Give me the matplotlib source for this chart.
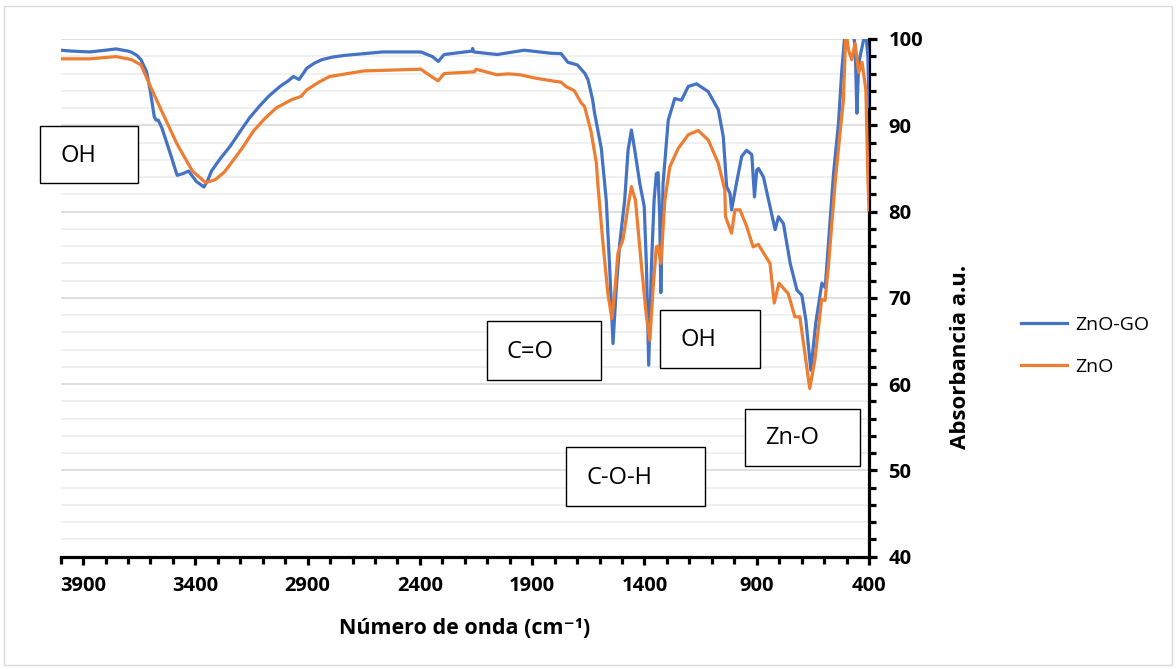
import matplotlib
matplotlib.use("Agg")
import matplotlib.pyplot as plt
from matplotlib.patches import Rectangle
from matplotlib.ticker import MultipleLocator, FixedLocator
import numpy as np

plt.rcParams['font.family'] = ['Open Sans', 'DejaVu Sans']

# ZnO-GO spectrum (wavenumber, absorbance a.u.)
wn_zngo = [4000, 3950, 3871, 3800, 3753, 3700, 3684, 3660, 3642, 3617, 3600, 3583, 3575, 3565,
           3549, 3515, 3481, 3455, 3430, 3396, 3362, 3345, 3328, 3290, 3244, 3200, 3159, 3115,
           3074, 3023, 2989, 2963, 2938, 2904, 2870, 2837, 2790, 2735, 2650, 2565, 2396, 2344,
           2318, 2292, 2200, 2168, 2165, 2160, 2056, 1936, 1817, 1771, 1741, 1727, 1699, 1665,
           1651, 1631, 1622, 1592, 1570, 1555, 1540, 1525, 1510, 1488, 1473, 1458, 1443, 1421,
           1401, 1391, 1381, 1369, 1357, 1347, 1339, 1332, 1327, 1317, 1294, 1265, 1235, 1205,
           1168, 1116, 1071, 1049, 1034, 1019, 1012, 990, 967, 945, 922, 910, 900, 892, 870, 841,
           818, 803, 781, 751, 721, 699, 681, 659, 637, 610, 595, 558, 536, 521, 506, 490, 470,
           461, 454, 446, 424, 415, 405, 400]
ab_zngo = [98.7, 98.6, 98.5, 98.7, 98.85, 98.6, 98.46, 98.1, 97.6, 96.2, 93.9, 91.0, 90.6, 90.6,
           89.7, 87.0, 84.2, 84.4, 84.7, 83.5, 82.85, 83.6, 84.7, 86.1, 87.6, 89.3, 90.85, 92.2,
           93.35, 94.5, 95.1, 95.65, 95.3, 96.6, 97.2, 97.6, 97.9, 98.1, 98.3, 98.5, 98.5, 97.96,
           97.4, 98.2, 98.5, 98.6, 98.9, 98.5, 98.2, 98.7, 98.35, 98.3, 97.3, 97.2, 97.0, 96.0,
           95.25, 93.0, 91.4, 87.3, 81.3, 73.6, 64.7, 71.3, 76.3, 81.3, 87.1, 89.45, 87.1, 83.3,
           80.6, 73.6, 62.2, 73.6, 81.3, 84.4, 84.5, 79.4, 70.6, 83.3, 90.6, 93.1, 92.9, 94.5,
           94.8, 93.9, 91.8, 88.7, 82.9, 82.1, 80.2, 83.3, 86.4, 87.1, 86.6, 81.7, 84.8, 85.0, 84.0, 80.6,
           77.9, 79.4, 78.6, 74.0, 70.9, 70.3, 67.4, 61.6, 67.1, 71.7, 71.2, 84.4, 90.2, 96.4, 101, 102, 101,
           98.7, 91.4, 97.2, 99.9, 101, 98.0, 92.2]

# ZnO spectrum
wn_zno = [4000, 3871, 3753, 3700, 3684, 3642, 3600, 3549, 3481, 3413, 3354, 3311, 3270, 3244,
          3190, 3142, 3090, 3040, 2972, 2929, 2904, 2850, 2802, 2720, 2650, 2396, 2360, 2319,
          2292, 2157, 2150, 2056, 2007, 1953, 1885, 1800, 1771, 1750, 1712, 1682, 1667, 1638,
          1614, 1608, 1586, 1563, 1545, 1530, 1518, 1496, 1473, 1458, 1440, 1413, 1391, 1376,
          1361, 1347, 1339, 1327, 1309, 1287, 1250, 1205, 1161, 1116, 1071, 1042, 1039, 1012,
          997, 975, 945, 916, 893, 841, 822, 801, 760, 730, 708, 664, 641, 611, 596, 581, 551,
          529, 514, 503, 491, 477, 462, 446, 431, 414, 405, 400]
ab_zno = [97.7, 97.7, 97.96, 97.7, 97.6, 97.0, 94.5, 91.6, 87.8, 84.7, 83.35, 83.7, 84.6, 85.5,
          87.4, 89.3, 90.8, 92.0, 92.96, 93.35, 94.1, 95.0, 95.65, 96.0, 96.3, 96.5, 95.85, 95.15,
          96.0, 96.2, 96.5, 95.85, 95.96, 95.85, 95.46, 95.1, 95.0, 94.5, 94.0, 92.6, 92.2, 89.3,
          85.6, 83.3, 76.7, 70.5, 67.6, 71.3, 75.2, 76.7, 80.6, 82.9, 81.3, 73.6, 67.8, 65.1,
          71.3, 75.9, 76.0, 74.0, 81.3, 85.2, 87.3, 88.9, 89.4, 88.3, 85.6, 82.5, 79.4, 77.5,
          80.2, 80.2, 78.3, 75.9, 76.2, 74.0, 69.4, 71.7, 70.5, 67.8, 67.8, 59.5, 62.8, 69.8, 69.7, 73.6, 83.3,
          89.1, 92.9, 101, 98.7, 97.6, 99.5, 96.1, 97.3, 94.1, 84.0, 80.2]

x_ticks = [3900, 3400, 2900, 2400, 1900, 1400, 900, 400]

# annotation boxes: label, (left, top, right, bottom) in pixels
boxes = [("OH", (40, 126, 138, 183)),
         ("C=O", (487, 321, 601, 380)),
         ("OH", (660, 310, 760, 368)),
         ("C-O-H", (566, 447, 705, 506)),
         ("Zn-O", (745, 409, 860, 466))]

W, H = 1176, 669
fig = plt.figure(figsize=(W / 100, H / 100), dpi=100)
ax = fig.add_axes([60.6 / W, 1 - 556.7 / H, (869 - 60.6) / W, (556.7 - 39) / H])

l1, = ax.plot(wn_zngo, ab_zngo, color='#4472C4', lw=2.3, label='ZnO-GO', zorder=3)
l2, = ax.plot(wn_zno, ab_zno, color='#ED7D31', lw=2.3, label='ZnO', zorder=4)

ax.set_xlim(4000, 400)
ax.set_ylim(40, 100)

ax.xaxis.set_major_locator(FixedLocator(x_ticks))
ax.xaxis.set_minor_locator(MultipleLocator(100))
ax.yaxis.set_major_locator(MultipleLocator(10))
ax.yaxis.set_minor_locator(MultipleLocator(2))
ax.yaxis.tick_right()

ax.grid(axis='y', which='major', color='#D9D9D9', lw=1.2, zorder=0)
ax.grid(axis='y', which='minor', color='#EDEDED', lw=1.2, zorder=0)
ax.set_axisbelow(True)

for s in ['left', 'top']:
    ax.spines[s].set_visible(False)
for s in ['bottom', 'right']:
    ax.spines[s].set_linewidth(2.3)
    ax.spines[s].set_color('black')

ax.tick_params(axis='both', which='major', direction='out', length=6, width=2.3,
               labelsize=14.5, pad=8)
ax.tick_params(axis='both', which='minor', direction='out', length=5, width=2.3)
for lab in ax.get_xticklabels() + ax.get_yticklabels():
    lab.set_fontweight('bold')

fig.text(465 / W, 1 - 628 / H, 'Número de onda (cm⁻¹)', ha='center', va='center',
         fontsize=15.5, fontweight='bold')
fig.text(960 / W, 1 - 357 / H, 'Absorbancia a.u.', ha='center', va='center',
         rotation=90, fontsize=16, fontweight='bold')

fig.legend(handles=[l1, l2], loc='upper left', bbox_to_anchor=(1003 / W, 1 - 298 / H),
           frameon=False, fontsize=14, handlelength=2.4, handletextpad=0.4,
           labelspacing=1.25)

for txt, (x0, y0, x1, y1) in boxes:
    fig.add_artist(Rectangle((x0 / W, 1 - y1 / H), (x1 - x0) / W, (y1 - y0) / H,
                             transform=fig.transFigure, facecolor='white',
                             edgecolor='black', lw=1, zorder=5))
    fig.text((x0 + 20) / W, 1 - ((y0 + y1) / 2 + 1) / H, txt, ha='left', va='center',
             fontsize=17, zorder=6)

fig.add_artist(Rectangle((4 / W, 4 / H), (W - 8) / W, (H - 10) / H, transform=fig.transFigure,
                         facecolor='none', edgecolor='#D9D9D9', lw=1))

fig.savefig('out.png', dpi=100)
